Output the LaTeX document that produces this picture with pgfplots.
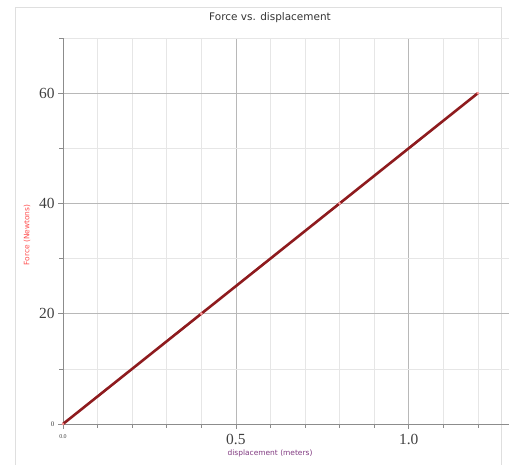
\documentclass[border=0pt]{standalone}
\usepackage{pgfplots}
\pgfplotsset{compat=1.18}
\usepackage{fontspec}
\setmainfont{Liberation Serif}
\setsansfont{DejaVu Sans}
\definecolor{linered}{HTML}{8E1B1E}
\definecolor{gridmaj}{HTML}{B8B8B8}
\definecolor{gridmin}{HTML}{E6E6E6}
\definecolor{axgray}{HTML}{8C8C8C}
\begin{document}
\begin{tikzpicture}[x=1bp,y=1bp]
\useasboundingbox (0,0) rectangle (509,465);
\draw[gray!25, line width=0.8bp] (15,-2) rectangle (501,458);
\begin{axis}[
  at={(63bp,41bp)}, anchor=south west,
  scale only axis,
  width=446bp, height=386bp,
  xmin=0, xmax=1.29, ymin=0, ymax=70,
  axis lines=left,
  axis line style={axgray, line width=0.8bp, -},
  tick align=outside,
  major tick length=5bp, minor tick length=4bp,
  tick style={axgray, line width=0.6bp},
  xtick={0,0.5,1.0},
  xticklabels={{\fontsize{6}{6}\selectfont 0.0},0.5,1.0},
  minor xtick={0.1,0.2,0.3,0.4,0.6,0.7,0.8,0.9,1.1,1.2},
  ytick={0,20,40,60},
  yticklabels={{\fontsize{7}{7}\selectfont 0},20,40,60},
  minor ytick={10,30,50,70},
  grid=both,
  major grid style={gridmaj, line width=0.7bp},
  minor grid style={gridmin, line width=0.6bp},
  /pgf/number format/assume math mode=true,
  ticklabel style={font=\fontsize{15.5}{15.5}\selectfont, text=black!75},
  xticklabel style={yshift=-2bp},
  clip=false,
]
\addplot[linered, line width=2.6bp, mark=*, mark size=1.2bp,
  mark options={fill=red!35, draw=red!45, line width=0.3bp}]
  coordinates {(0,0) (0.4,20) (0.8,40) (1.2,60)};
\end{axis}
\node[font=\sffamily\fontsize{10.5}{12}\selectfont, text=black!80] at (270,447) {Force vs. displacement};
\node[font=\sffamily\fontsize{7.5}{8}\selectfont, text=red!70!white, rotate=90] at (27,230) {Force (Newtons)};
\node[font=\sffamily\fontsize{7.5}{8}\selectfont, text=violet!55!gray] at (270,12) {displacement (meters)};
\end{tikzpicture}
\end{document}
